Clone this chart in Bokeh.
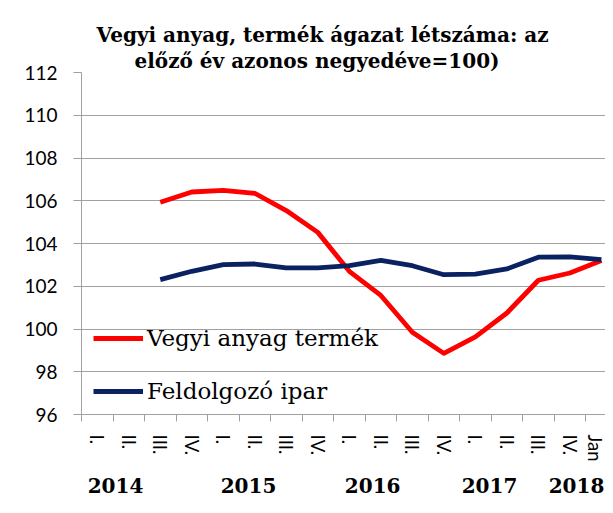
from bokeh.plotting import figure
from bokeh.models import Range1d, FixedTicker, Legend, LegendItem, LinearAxis, Title
from bokeh.embed import file_html
from bokeh.resources import INLINE

# ---- data ----
quarters = ["I.", "II.", "III.", "IV.", "I.", "II.", "III.", "IV.",
            "I.", "II.", "III.", "IV.", "I.", "II.", "III.", "IV.", "Jan"]
first_idx = 2  # series start at 2014 III.
vegyi = [105.93, 106.41, 106.49, 106.35, 105.54, 104.52, 102.70, 101.57,
         99.85, 98.86, 99.63, 100.75, 102.28, 102.62, 103.20]
feldolgozo = [102.31, 102.70, 103.01, 103.04, 102.86, 102.86, 102.96, 103.21,
              102.96, 102.54, 102.57, 102.81, 103.36, 103.37, 103.25]
years = ["2014", "2015", "2016", "2017", "2018"]
year_pos = [1.08, 5.3, 9.24, 12.95, 15.71]
y_ticks = [96, 98, 100, 102, 104, 106, 108, 110, 112]
title_lines = ["Vegyi anyag, termék ágazat létszáma: az",
               "előző év azonos negyedéve=100)"]
series_names = ["Vegyi anyag termék", "Feldolgozó ipar"]

GRID = "#A0A0A0"
RED = "#FF0000"
NAVY = "#0A2262"

p = figure(width=605, height=505, output_backend="svg", toolbar_location=None,
           x_range=Range1d(0, 16.63), y_range=Range1d(96, 112),
           min_border_left=81, min_border_right=0, min_border_top=72,
           min_border_bottom=91)
p.outline_line_color = None
p.background_fill_color = "white"
p.border_fill_color = "white"

xs = [i + 0.5 for i in range(first_idx, len(quarters))]
r1 = p.line(xs, vegyi, line_color=RED, line_width=4.8, line_join="round")
r2 = p.line(xs, feldolgozo, line_color=NAVY, line_width=4.8, line_join="round")

# y axis
p.yaxis.ticker = FixedTicker(ticks=y_ticks)
p.yaxis.axis_line_color = GRID
p.yaxis.major_tick_line_color = GRID
p.yaxis.major_tick_out = 8
p.yaxis.major_tick_in = 0
p.yaxis.minor_tick_line_color = None
p.yaxis.major_label_standoff = 16
p.yaxis.major_label_text_font = "Lato"
p.yaxis.major_label_text_font_size = "19px"
p.yaxis.major_label_text_color = "black"

# x axis (quarters)
centers = [i + 0.5 for i in range(len(quarters))]
p.xaxis.ticker = FixedTicker(ticks=centers, minor_ticks=list(range(len(quarters) + 1)))
p.xaxis.major_label_overrides = {c: q for c, q in zip(centers, quarters)}
p.xaxis.major_label_orientation = "vertical"
p.xaxis.axis_line_color = GRID
p.xaxis.major_tick_line_color = None
p.xaxis.major_tick_out = 0
p.xaxis.major_tick_in = 0
p.xaxis.minor_tick_line_color = GRID
p.xaxis.minor_tick_out = 7
p.xaxis.minor_tick_in = 0
p.xaxis.major_label_standoff = 13
p.xaxis.major_label_text_font = "Lato"
p.xaxis.major_label_text_font_size = "18.5px"
p.xaxis.major_label_text_color = "black"

# year axis
yax = LinearAxis(ticker=FixedTicker(ticks=year_pos),
                 major_label_overrides={xp: yr for xp, yr in zip(year_pos, years)})
yax.axis_line_color = None
yax.major_tick_line_color = None
yax.minor_tick_line_color = None
yax.major_tick_out = 0
yax.major_tick_in = 0
yax.major_label_standoff = 13
yax.major_label_text_font = "DejaVu Serif"
yax.major_label_text_font_style = "bold"
yax.major_label_text_font_size = "20px"
yax.major_label_text_color = "black"
p.add_layout(yax, "below")

p.xgrid.grid_line_color = None
p.ygrid.ticker = FixedTicker(ticks=y_ticks)
p.ygrid.grid_line_color = GRID
p.ygrid.grid_line_width = 1

# title (two lines, closest to frame added first)
for t, so, off in [(title_lines[1], 0, 53), (title_lines[0], 0, 15)]:
    p.add_layout(Title(text=t, align="left", offset=off, standoff=so,
                       text_font="DejaVu Serif", text_font_style="bold",
                       text_font_size="20px", text_color="black"), "above")

legend = Legend(items=[LegendItem(label=series_names[0], renderers=[r1]),
                       LegendItem(label=series_names[1], renderers=[r2])],
                location=(12, 10), padding=0, margin=0, spacing=27,
                glyph_width=50, glyph_height=24, label_height=24,
                label_standoff=4, border_line_color=None,
                background_fill_alpha=0,
                label_text_font="DejaVu Serif", label_text_font_size="23px",
                label_text_color="black")
p.add_layout(legend)

open("out.html", "w").write(file_html(p, INLINE))
